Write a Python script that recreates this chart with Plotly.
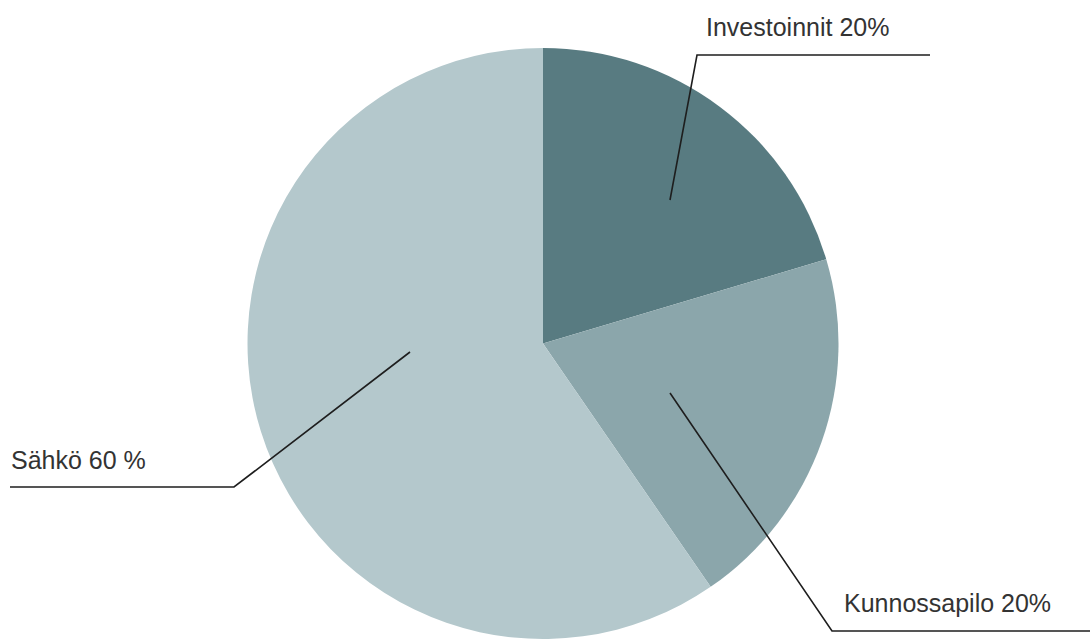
import plotly.graph_objects as go

labels = ["Investoinnit", "Kunnossapilo", "Sähkö"]
values = [20.4, 20.0, 59.6]
label_texts = ["Investoinnit 20%", "Kunnossapilo 20%", "Sähkö 60 %"]
colors = ["#587b81", "#8ba6ab", "#b4c8cc"]

W, H = 1090, 639

def px(x):
    return x / W

def py(y):
    return 1 - y / H

fig = go.Figure(go.Pie(
    labels=labels, values=values, sort=False, direction="clockwise", rotation=0,
    marker=dict(colors=colors, line=dict(width=0)),
    textinfo="none", hoverinfo="label+percent", showlegend=False,
    domain=dict(x=[px(543 - 297), px(543 + 297)], y=[0, py(48)]),
))

line_style = dict(color="#1e1e1e", width=1.6)
# leader lines: (inside point, elbow, end)
leaders = [
    [(670, 200), (697, 55), (930, 55)],
    [(670, 393), (832, 631), (1090, 631)],
    [(410, 352), (234, 487), (10, 487)],
]
for pts in leaders:
    path = "M {} {}".format(px(pts[0][0]), py(pts[0][1]))
    for p in pts[1:]:
        path += " L {} {}".format(px(p[0]), py(p[1]))
    fig.add_shape(type="path", path=path, xref="paper", yref="paper", line=line_style)

text_pos = [(704, 27, "left"), (842, 603, "left"), (9, 460, "left")]
for (x, y, anc), t in zip(text_pos, label_texts):
    fig.add_annotation(x=px(x), y=py(y), xref="paper", yref="paper", text=t,
                       showarrow=False, xanchor=anc, yanchor="middle",
                       font=dict(family="Liberation Sans Narrow, Arial Narrow, sans-serif", size=25, color="#333333"))

fig.update_layout(width=W, height=H, margin=dict(l=0, r=0, t=0, b=0),
                  paper_bgcolor="white", plot_bgcolor="white")
fig.write_html("out.html")
